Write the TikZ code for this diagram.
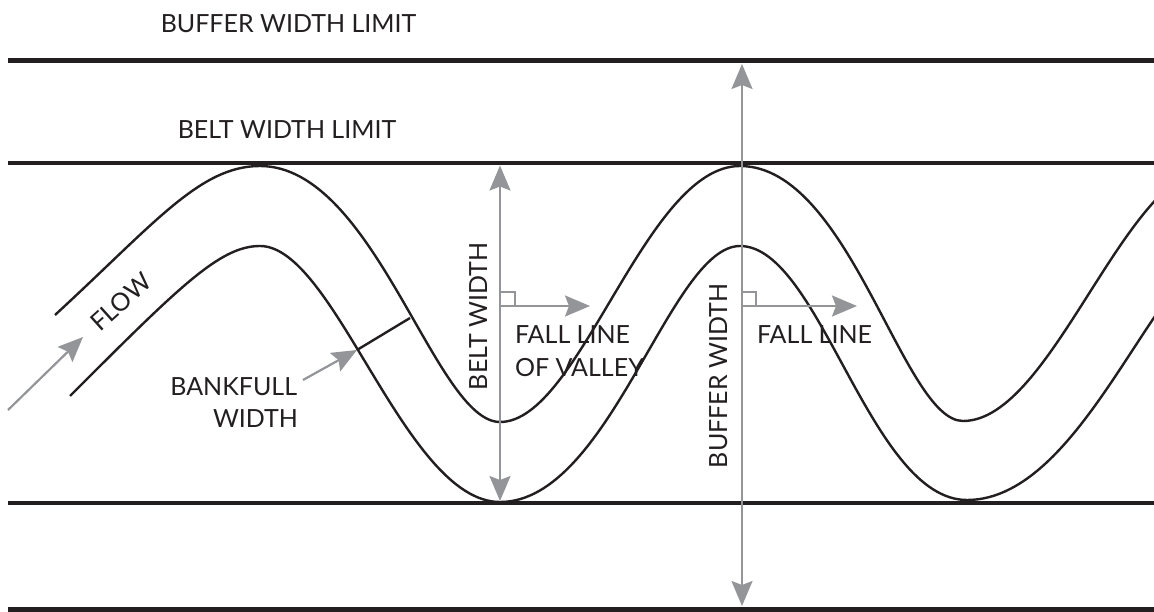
\documentclass[tikz,border=0pt]{standalone}
\usepackage{fontspec}
\setmainfont{Lato}
\usetikzlibrary{arrows.meta}
\definecolor{ink}{HTML}{231F20}
\definecolor{arrowgrey}{HTML}{939598}
\begin{document}
\begin{tikzpicture}[x=1pt,y=-1pt,
  limitline/.style={draw=ink,line width=5pt},
  beltline/.style={draw=ink,line width=4pt},
  bank/.style={draw=ink,line width=2.4pt},
  pointer/.style={draw=arrowgrey,line width=2.2pt,-{Stealth[length=25pt,width=21pt,inset=4pt]}},
  twoway/.style={draw=arrowgrey,line width=2.2pt,{Stealth[length=25pt,width=21pt,inset=4pt]}-{Stealth[length=25pt,width=21pt,inset=4pt]}},
  rightangle/.style={draw=arrowgrey,line width=1.6pt},
  label/.style={text=ink,font=\fontsize{25}{33}\selectfont,inner sep=0pt,outer sep=0pt},
]
\useasboundingbox (0,0) rectangle (1154,612);

% river banks
\begin{scope}
\clip (0,0) rectangle (1154,612);
\draw[bank] (55,315) .. controls (155,223) and (200,166) .. (260,166)
  .. controls (375,166) and (435,422) .. (500,422)
  .. controls (580,422) and (645,166) .. (740,166)
  .. controls (850,166) and (903,421) .. (963,421)
  .. controls (1053,421) and (1125,166) .. (1215,166);
\draw[bank] (70,396) .. controls (180,286) and (220,246) .. (260,246)
  .. controls (335,246) and (405,502) .. (500,502)
  .. controls (610,502) and (670,246) .. (740,246)
  .. controls (820,246) and (870,500) .. (967,500)
  .. controls (1087,500) and (1160,246) .. (1232,246);
\end{scope}

% limit lines
\coordinate (bufTL) at (8,61);   \coordinate (bufTR) at (1154,61);
\coordinate (beltTL) at (8,163); \coordinate (beltTR) at (1154,163);
\coordinate (beltBL) at (8,503); \coordinate (beltBR) at (1154,503);
\coordinate (bufBL) at (8,609.5); \coordinate (bufBR) at (1154,609.5);
\draw[limitline] (bufTL) -- (bufTR);
\draw[beltline] (beltTL) -- (beltTR);
\draw[beltline] (beltBL) -- (beltBR);
\draw[limitline] (bufBL) -- (bufBR);

% bankfull width
\coordinate (bfB) at (357,350);
\coordinate (bfA) at (410,318);
\draw[bank] (bfB) -- (bfA);

% arrows
\coordinate (flowS) at (8,410);   \coordinate (flowE) at (83,337);
\draw[pointer] (flowS) -- (flowE);
\coordinate (bfS) at (303,380);
\draw[pointer] (bfS) -- (bfB);

\coordinate (bwTop) at (500,165.5); \coordinate (bwBot) at (500,501);
\draw[twoway] (bwTop) -- (bwBot);
\coordinate (buTop) at (742,64); \coordinate (buBot) at (742,606);
\draw[twoway] (buTop) -- (buBot);

\coordinate (fl1S) at (500,306); \coordinate (fl1E) at (590,306);
\draw[pointer] (fl1S) -- (fl1E);
\coordinate (fl2S) at (742,306); \coordinate (fl2E) at (857,306);
\draw[pointer] (fl2S) -- (fl2E);
\draw[rightangle] (500,292) rectangle (515,306);
\draw[rightangle] (742,292) rectangle (756,306);

% labels
\node[label,anchor=base] (tBuffer) at (288.5,33) {BUFFER WIDTH LIMIT};
\node[label,anchor=base] (tBelt) at (287,139) {BELT WIDTH LIMIT};
\node[label,rotate=42] (tFlow) at (121,302) {FLOW};
\node[label,anchor=base east] (tBank1) at (297,395) {BANKFULL};
\node[label,anchor=base east] (tBank2) at (298,427) {WIDTH};
\node[label,rotate=90,anchor=base west] (tBW) at (487,390) {BELT WIDTH};
\node[label,rotate=90,anchor=base west] (tBuW) at (727,468) {BUFFER WIDTH};
\node[label,anchor=base west] (tFL1) at (515,343) {FALL LINE};
\node[label,anchor=base west] (tFL1b) at (515,376) {OF VALLEY};
\node[label,anchor=base west] (tFL2) at (757,343) {FALL LINE};
\end{tikzpicture}
\end{document}
